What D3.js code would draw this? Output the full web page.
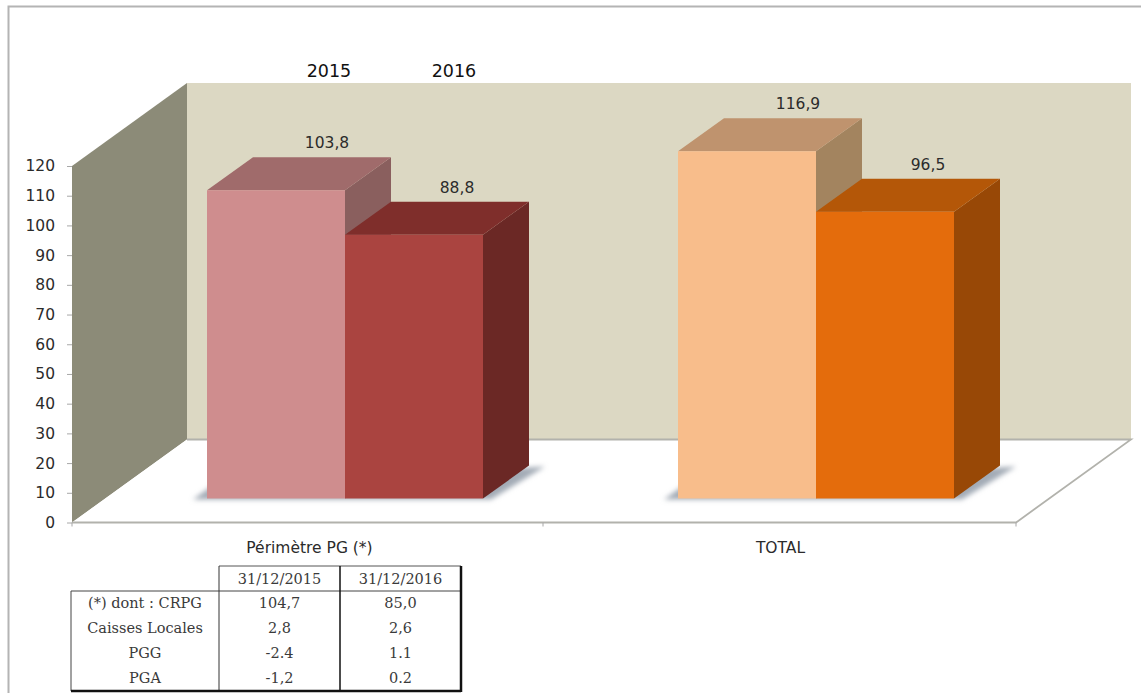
<!DOCTYPE html>
<html lang="fr">
<head>
<meta charset="utf-8">
<title>Résultat 2015-2016</title>
<script src="https://cdn.jsdelivr.net/npm/d3@7/dist/d3.min.js"></script>
<style>
  html, body { margin: 0; padding: 0; background: #fff; }
  svg { display: block; }
  text { font-family: "DejaVu Sans", sans-serif; fill: #2b2b2b; }
  .table-text { font-family: "DejaVu Serif", serif; font-size: 14.5px; fill: #3a3a3a; }
</style>
</head>
<body>
<svg id="chart" width="1141" height="693"></svg>
<script>
// Chart values
const categories = ["Périmètre PG (*)", "TOTAL"];
const seriesNames = ["2015", "2016"];
const values2015 = [103.8, 116.9];
const values2016 = [88.8, 96.5];
const valueLabels2015 = ["103,8", "116,9"];
const valueLabels2016 = ["88,8", "96,5"];
const yTicks = d3.range(0, 121, 10);

// Breakdown table under the chart
const tableHeaders = ["31/12/2015", "31/12/2016"];
const tableRows = ["(*) dont : CRPG", "Caisses Locales", "PGG", "PGA"];
const tableCol2015 = ["104,7", "2,8", "-2.4", "-1,2"];
const tableCol2016 = ["85,0", "2,6", "1.1", "0.2"];

// One colour triple per bar: front, top, side
const barColours = [
  [{ front: "#cf8d8e", top: "#a06b6b", side: "#8a5f5e" }, { front: "#aa4440", top: "#7f2e2b", side: "#6b2825" }],
  [{ front: "#f8bd8b", top: "#bf936e", side: "#a3845f" }, { front: "#e46c0c", top: "#b45708", side: "#984806" }]
];

const svg = d3.select("#chart");
const line = d3.line();

// Scene geometry
const wall = { depthX: 115, depthY: -83, left: 72, right: 1016 };
const bar = { offX: 35, offY: -24, depthX: 46, depthY: -33 };
const y = d3.scaleLinear().domain([0, 120]).range([522.5, 166]);
const x0 = d3.scaleBand().domain(categories).range([wall.left, wall.left + 942]);
const x1 = d3.scaleBand().domain(seriesNames).range([100, 376]);

const poly = (pts, fill, parent = svg) =>
  parent.append("path").attr("d", line(pts) + "Z").attr("fill", fill);

// Outer frame
svg.append("path").attr("d", "M8.5,693V6.5H1141").attr("fill", "none").attr("stroke", "#b4b4b4").attr("stroke-width", 2);

// Shadow blur
const defs = svg.append("defs");
defs.append("filter").attr("id", "soft").attr("x", "-10%").attr("y", "-30%").attr("width", "120%").attr("height", "160%")
  .append("feGaussianBlur").attr("stdDeviation", 2.5);

// Back wall, side wall and floor
const y0 = y(0), yMax = y(120);
const bx = wall.depthX, by = wall.depthY;
poly([[wall.left + bx, yMax + by], [wall.right + bx, yMax + by], [wall.right + bx, y0 + by], [wall.left + bx, y0 + by]], "#dcd8c3");
poly([[wall.left, yMax], [wall.left + bx, yMax + by], [wall.left + bx, y0 + by], [wall.left, y0]], "#8c8b78");
poly([[wall.left, y0], [wall.left + bx, y0 + by], [wall.right + bx, y0 + by], [wall.right, y0]], "#ffffff");

// Floor edges
svg.append("path")
  .attr("d", line([[wall.left + bx, y0 + by], [wall.right + bx, y0 + by], [wall.right, y0], [wall.left, y0]]))
  .attr("fill", "none").attr("stroke", "#b2b2ac").attr("stroke-width", 1.8);

// Category axis ticks along the front edge of the floor
const categoryEdges = [x0(categories[0]), x0(categories[1]), wall.right];
categoryEdges.forEach(px => {
  svg.append("line").attr("x1", px).attr("x2", px).attr("y1", y0).attr("y2", y0 + 4)
    .attr("stroke", "#a8a8a8");
});

// Value axis
const axis = svg.append("g").attr("transform", `translate(${wall.left},0)`)
  .call(d3.axisLeft(y).tickValues(yTicks).tickSize(5).tickPadding(12));
axis.select(".domain").remove();
axis.selectAll("line").attr("stroke", "#a8a8a8");
axis.selectAll("text").style("font-size", "15.5px").style("font-family", "'DejaVu Sans', sans-serif").attr("fill", "#333");

// Bars, drawn back to front so the near faces overlap
const baseY = y0 + bar.offY;
const seriesValues = [values2015, values2016];
const seriesLabels = [valueLabels2015, valueLabels2016];
const labelShift = [120, 112];

categories.forEach((cat, c) => {
  const left = x0(cat) + x1(seriesNames[0]) + bar.offX;
  const right = x0(cat) + x1(seriesNames[1]) + x1.bandwidth() + bar.offX;
  const shadow = svg.append("g").attr("filter", "url(#soft)");
  poly([[left - 14, baseY + 1], [left + 4, baseY - 12], [right + bar.depthX + 16, baseY + bar.depthY + 1],
        [right + 8, baseY + 1]], "#a3abb6", shadow);

  seriesNames.forEach((name, s) => {
    const w = x1.bandwidth();
    const xl = x0(cat) + x1(name) + bar.offX;
    const top = baseY - (y0 - y(seriesValues[s][c]));
    const col = barColours[c][s];
    const dx = bar.depthX, dy = bar.depthY;

    poly([[xl + w, top], [xl + w + dx, top + dy], [xl + w + dx, baseY + dy], [xl + w, baseY]], col.side);
    poly([[xl, top], [xl + dx, top + dy], [xl + w + dx, top + dy], [xl + w, top]], col.top);
    poly([[xl, top], [xl + w, top], [xl + w, baseY], [xl, baseY]], col.front);

    svg.append("text")
      .attr("x", xl + labelShift[s])
      .attr("y", top - 42)
      .attr("text-anchor", "middle")
      .style("font-size", "15.5px")
      .text(seriesLabels[s][c]);
  });
});

// Series captions above the first group
seriesNames.forEach((name, s) => {
  svg.append("text")
    .attr("x", s === 0 ? 329 : 454)
    .attr("y", 77)
    .attr("text-anchor", "middle")
    .style("font-size", "17.5px")
    .style("fill", "#111")
    .text(name);
});

// Category labels
categories.forEach(cat => {
  svg.append("text")
    .attr("x", x0(cat) + x0.bandwidth() / 2 + 2)
    .attr("y", 553)
    .attr("text-anchor", "middle")
    .style("font-size", "15.5px")
    .text(cat);
});

// Breakdown table
const colX = [71, 219, 340, 461];
const headTop = 566, headBottom = 591, tableBottom = 691;
const rowH = (tableBottom - headBottom) / tableRows.length;
const rule = (x1p, y1p, x2p, y2p, w = 1, c = "#222") =>
  svg.append("line").attr("x1", x1p).attr("y1", y1p).attr("x2", x2p).attr("y2", y2p)
    .attr("stroke", c).attr("stroke-width", w);

rule(colX[1], headTop, colX[3], headTop, 1, "#555");
rule(colX[0], headBottom, colX[3], headBottom, 1, "#444");
rule(colX[0], headBottom, colX[0], tableBottom, 1, "#444");
rule(colX[1], headTop, colX[1], tableBottom, 1, "#333");
rule(colX[2], headTop, colX[2], tableBottom, 1.5, "#111");
rule(colX[3], headTop, colX[3], tableBottom + 1, 2.5, "#111");
rule(colX[0], tableBottom, colX[3], tableBottom, 2.5, "#111");

const cell = (x, yPos, text) =>
  svg.append("text").attr("class", "table-text").attr("x", x).attr("y", yPos)
    .attr("text-anchor", "middle").text(text);

tableHeaders.forEach((h, i) => cell((colX[i + 1] + colX[i + 2]) / 2, headBottom - 7, h));
tableRows.forEach((r, i) => {
  const ty = headBottom + rowH * i + 17;
  cell((colX[0] + colX[1]) / 2, ty, r);
  cell((colX[1] + colX[2]) / 2, ty, tableCol2015[i]);
  cell((colX[2] + colX[3]) / 2, ty, tableCol2016[i]);
});
</script>
</body>
</html>
